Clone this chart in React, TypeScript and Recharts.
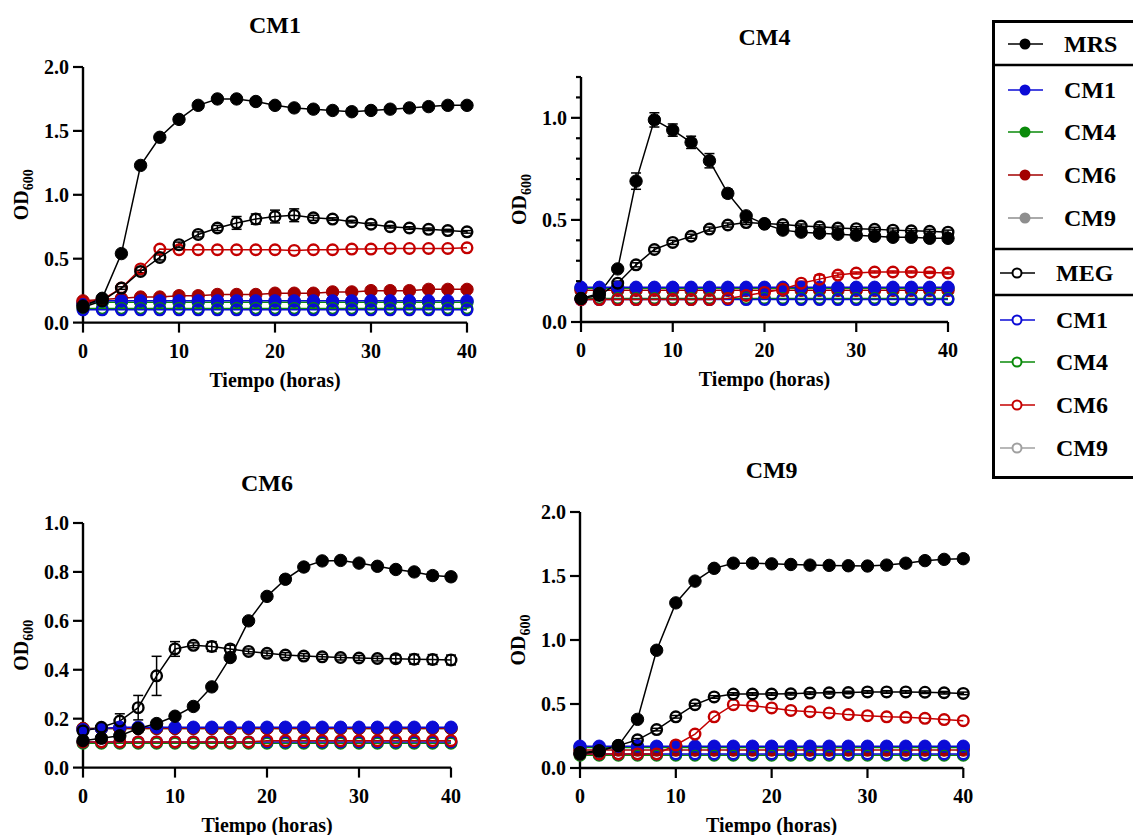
import React from 'react';
import { LineChart, Line, XAxis, YAxis, ErrorBar, Label } from 'recharts';

const FONT = '"Liberation Serif", "Times New Roman", Times, serif';
const BLACK = '#000000';
const BLUE = '#0b0bd6';
const GREEN = '#0a8a0a';
const RED_FILLED = '#a30000';
const RED_OPEN = '#c40000';
const GRAY = '#8e8e8e';
const GRAY_OPEN = '#a0a0a0';

const HOURS = [0, 2, 4, 6, 8, 10, 12, 14, 16, 18, 20, 22, 24, 26, 28, 30, 32, 34, 36, 38, 40];
const X_TICKS = [0, 10, 20, 30, 40];
const Y_TICKS_2 = [0, 0.5, 1.0, 1.5, 2.0];
const Y_TICKS_12 = [0, 0.1, 0.2, 0.3, 0.4, 0.5, 0.6, 0.7, 0.8, 0.9, 1.0, 1.1, 1.2];
const Y_TICKS_1 = [0, 0.2, 0.4, 0.6, 0.8, 1.0];

// --- panel CM1 ---
const CM1_MRS = [0.13, 0.19, 0.54, 1.23, 1.45, 1.59, 1.70, 1.75, 1.75, 1.73, 1.70, 1.68, 1.67, 1.66, 1.65, 1.66, 1.67, 1.68, 1.69, 1.70, 1.70];
const CM1_MRS_ERR = [0.01, 0.01, 0.01, 0.01, 0.01, 0.01, 0.01, 0.01, 0.01, 0.01, 0.01, 0.01, 0.01, 0.01, 0.01, 0.01, 0.01, 0.01, 0.01, 0.01, 0.01];
const CM1_MEG = [0.12, 0.17, 0.27, 0.40, 0.51, 0.61, 0.69, 0.74, 0.78, 0.81, 0.83, 0.84, 0.82, 0.81, 0.79, 0.77, 0.75, 0.74, 0.73, 0.72, 0.71];
const CM1_MEG_ERR = [0.01, 0.01, 0.01, 0.01, 0.02, 0.02, 0.02, 0.02, 0.05, 0.04, 0.05, 0.05, 0.02, 0.01, 0.01, 0.01, 0.01, 0.01, 0.01, 0.01, 0.01];
const CM1_MRS_CM1 = [0.15, 0.17, 0.17, 0.17, 0.17, 0.17, 0.17, 0.17, 0.17, 0.17, 0.17, 0.17, 0.17, 0.17, 0.17, 0.17, 0.17, 0.17, 0.17, 0.17, 0.17];
const CM1_MRS_CM4 = [0.15, 0.16, 0.16, 0.16, 0.16, 0.16, 0.16, 0.16, 0.16, 0.16, 0.16, 0.16, 0.16, 0.16, 0.16, 0.16, 0.16, 0.16, 0.16, 0.16, 0.16];
const CM1_MRS_CM6 = [0.17, 0.18, 0.19, 0.20, 0.20, 0.21, 0.21, 0.22, 0.22, 0.22, 0.23, 0.23, 0.23, 0.24, 0.24, 0.25, 0.25, 0.25, 0.26, 0.26, 0.26];
const CM1_MEG_CM1 = [0.10, 0.10, 0.10, 0.10, 0.10, 0.10, 0.10, 0.10, 0.10, 0.10, 0.10, 0.10, 0.10, 0.10, 0.10, 0.10, 0.10, 0.10, 0.10, 0.10, 0.10];
const CM1_MEG_CM4 = [0.11, 0.11, 0.11, 0.11, 0.11, 0.11, 0.11, 0.11, 0.11, 0.11, 0.11, 0.11, 0.11, 0.11, 0.11, 0.11, 0.11, 0.11, 0.11, 0.11, 0.11];
const CM1_MEG_CM6 = [0.16, 0.18, 0.27, 0.42, 0.575, 0.57, 0.57, 0.57, 0.57, 0.57, 0.57, 0.565, 0.57, 0.57, 0.575, 0.575, 0.58, 0.58, 0.58, 0.58, 0.585];

// --- panel CM4 ---
const CM4_MRS = [0.115, 0.14, 0.26, 0.69, 0.99, 0.94, 0.88, 0.79, 0.63, 0.52, 0.48, 0.45, 0.44, 0.435, 0.43, 0.425, 0.42, 0.415, 0.415, 0.41, 0.41];
const CM4_MRS_ERR = [0.01, 0.01, 0.01, 0.04, 0.035, 0.03, 0.03, 0.035, 0.02, 0.01, 0.01, 0.01, 0.01, 0.01, 0.01, 0.01, 0.01, 0.01, 0.01, 0.01, 0.01];
const CM4_MEG = [0.115, 0.13, 0.19, 0.28, 0.355, 0.39, 0.42, 0.455, 0.475, 0.487, 0.482, 0.477, 0.47, 0.466, 0.46, 0.457, 0.454, 0.45, 0.447, 0.444, 0.44];
const CM4_MEG_ERR = [0.01, 0.01, 0.01, 0.01, 0.01, 0.01, 0.01, 0.01, 0.01, 0.01, 0.01, 0.01, 0.01, 0.01, 0.01, 0.01, 0.01, 0.01, 0.01, 0.01, 0.01];
const CM4_MRS_CM1 = [0.17, 0.17, 0.17, 0.17, 0.17, 0.17, 0.17, 0.17, 0.17, 0.17, 0.17, 0.17, 0.17, 0.17, 0.17, 0.17, 0.17, 0.17, 0.17, 0.17, 0.17];
const CM4_MRS_CM4 = [0.165, 0.165, 0.165, 0.165, 0.165, 0.165, 0.165, 0.165, 0.165, 0.165, 0.165, 0.165, 0.165, 0.165, 0.165, 0.165, 0.165, 0.165, 0.165, 0.165, 0.165];
const CM4_MRS_CM6 = [0.155, 0.155, 0.155, 0.155, 0.155, 0.155, 0.155, 0.155, 0.155, 0.155, 0.155, 0.155, 0.155, 0.155, 0.155, 0.155, 0.155, 0.155, 0.155, 0.155, 0.155];
const CM4_MEG_CM1 = [0.11, 0.11, 0.11, 0.11, 0.11, 0.11, 0.11, 0.11, 0.11, 0.11, 0.11, 0.11, 0.11, 0.11, 0.11, 0.11, 0.11, 0.11, 0.11, 0.11, 0.11];
const CM4_MEG_CM4 = [0.115, 0.115, 0.115, 0.115, 0.115, 0.115, 0.115, 0.115, 0.115, 0.115, 0.115, 0.115, 0.115, 0.115, 0.115, 0.115, 0.115, 0.115, 0.115, 0.115, 0.115];
const CM4_MEG_CM6 = [0.11, 0.11, 0.11, 0.11, 0.11, 0.11, 0.11, 0.11, 0.115, 0.13, 0.145, 0.16, 0.19, 0.21, 0.23, 0.24, 0.245, 0.245, 0.245, 0.243, 0.24];
const CM4_MEG_CM6_ERR = [0, 0, 0, 0, 0, 0, 0, 0, 0, 0, 0, 0, 0.01, 0.02, 0.01, 0.005, 0.005, 0.005, 0.005, 0.005, 0.005];

// --- panel CM6 ---
const CM6_MRS = [0.11, 0.12, 0.13, 0.16, 0.18, 0.21, 0.25, 0.33, 0.45, 0.60, 0.70, 0.77, 0.82, 0.845, 0.847, 0.836, 0.823, 0.81, 0.80, 0.785, 0.78];
const CM6_MRS_ERR = [0.005, 0.01, 0.01, 0.005, 0.005, 0.005, 0.005, 0.005, 0.005, 0.005, 0.005, 0.015, 0.015, 0.01, 0.01, 0.01, 0.01, 0.01, 0.01, 0.015, 0.015];
const CM6_MEG = [0.15, 0.165, 0.19, 0.245, 0.375, 0.485, 0.50, 0.495, 0.485, 0.475, 0.467, 0.46, 0.456, 0.453, 0.45, 0.448, 0.446, 0.445, 0.443, 0.442, 0.44];
const CM6_MEG_ERR = [0.01, 0.01, 0.03, 0.05, 0.08, 0.03, 0.01, 0.02, 0.015, 0.01, 0.01, 0.01, 0.01, 0.01, 0.01, 0.01, 0.01, 0.015, 0.02, 0.02, 0.02];
const CM6_MRS_CM1 = [0.155, 0.16, 0.165, 0.165, 0.165, 0.165, 0.165, 0.165, 0.165, 0.165, 0.165, 0.165, 0.165, 0.165, 0.165, 0.165, 0.165, 0.165, 0.165, 0.165, 0.165];
const CM6_MRS_CM4 = [0.16, 0.16, 0.16, 0.16, 0.16, 0.16, 0.16, 0.16, 0.16, 0.16, 0.16, 0.16, 0.16, 0.16, 0.16, 0.16, 0.16, 0.16, 0.16, 0.16, 0.16];
const CM6_MRS_CM6 = [0.16, 0.16, 0.16, 0.16, 0.16, 0.16, 0.16, 0.16, 0.16, 0.16, 0.16, 0.16, 0.16, 0.16, 0.16, 0.16, 0.16, 0.16, 0.16, 0.16, 0.16];
const CM6_MEG_CM1 = [0.105, 0.105, 0.105, 0.105, 0.105, 0.105, 0.105, 0.105, 0.105, 0.105, 0.105, 0.105, 0.105, 0.105, 0.105, 0.105, 0.105, 0.105, 0.105, 0.105, 0.105];
const CM6_MEG_CM4 = [0.10, 0.10, 0.10, 0.10, 0.10, 0.10, 0.10, 0.10, 0.10, 0.10, 0.10, 0.10, 0.10, 0.10, 0.10, 0.10, 0.10, 0.10, 0.10, 0.10, 0.10];
const CM6_MEG_CM6 = [0.105, 0.105, 0.105, 0.105, 0.105, 0.105, 0.105, 0.105, 0.105, 0.105, 0.11, 0.11, 0.11, 0.11, 0.11, 0.11, 0.11, 0.11, 0.11, 0.11, 0.11];

// --- panel CM9 ---
const CM9_MRS = [0.12, 0.135, 0.175, 0.38, 0.92, 1.29, 1.46, 1.56, 1.60, 1.60, 1.595, 1.59, 1.585, 1.583, 1.58, 1.578, 1.585, 1.60, 1.62, 1.63, 1.635];
const CM9_MRS_ERR = [0.01, 0.01, 0.01, 0.01, 0.01, 0.01, 0.01, 0.01, 0.01, 0.01, 0.01, 0.01, 0.01, 0.01, 0.01, 0.01, 0.01, 0.01, 0.01, 0.01, 0.01];
const CM9_MEG = [0.11, 0.13, 0.175, 0.22, 0.30, 0.40, 0.495, 0.555, 0.578, 0.578, 0.578, 0.58, 0.585, 0.588, 0.59, 0.594, 0.594, 0.594, 0.592, 0.588, 0.583];
const CM9_MEG_ERR = [0.01, 0.01, 0.01, 0.01, 0.01, 0.01, 0.01, 0.01, 0.01, 0.01, 0.01, 0.01, 0.01, 0.01, 0.01, 0.01, 0.01, 0.01, 0.01, 0.01, 0.01];
const CM9_MRS_CM1 = [0.17, 0.17, 0.17, 0.17, 0.17, 0.17, 0.17, 0.17, 0.17, 0.17, 0.17, 0.17, 0.17, 0.17, 0.17, 0.17, 0.17, 0.17, 0.17, 0.17, 0.17];
const CM9_MRS_CM4 = [0.16, 0.16, 0.16, 0.16, 0.16, 0.16, 0.16, 0.16, 0.16, 0.16, 0.16, 0.16, 0.16, 0.16, 0.16, 0.16, 0.16, 0.16, 0.16, 0.16, 0.16];
const CM9_MRS_CM6 = [0.14, 0.14, 0.14, 0.14, 0.14, 0.14, 0.14, 0.14, 0.14, 0.14, 0.14, 0.14, 0.14, 0.14, 0.14, 0.14, 0.14, 0.14, 0.14, 0.14, 0.14];
const CM9_MEG_CM1 = [0.11, 0.11, 0.11, 0.11, 0.11, 0.11, 0.11, 0.11, 0.11, 0.11, 0.11, 0.11, 0.11, 0.11, 0.11, 0.11, 0.11, 0.11, 0.11, 0.11, 0.11];
const CM9_MEG_CM4 = [0.10, 0.10, 0.10, 0.10, 0.10, 0.10, 0.10, 0.10, 0.10, 0.10, 0.10, 0.10, 0.10, 0.10, 0.10, 0.10, 0.10, 0.10, 0.10, 0.10, 0.10];
const CM9_MEG_CM6 = [0.11, 0.11, 0.11, 0.11, 0.11, 0.18, 0.265, 0.40, 0.495, 0.487, 0.469, 0.45, 0.44, 0.43, 0.417, 0.409, 0.40, 0.396, 0.388, 0.378, 0.37];

const LEGEND_TOP = ['MRS', 'CM1', 'CM4', 'CM6', 'CM9'];
const LEGEND_BOTTOM = ['MEG', 'CM1', 'CM4', 'CM6', 'CM9'];
const LEGEND_COLORS = [BLACK, BLUE, GREEN, RED_FILLED, GRAY];
const LEGEND_COLORS_OPEN = [BLACK, BLUE, GREEN, RED_OPEN, GRAY_OPEN];

type Series = { key: string; values: number[]; err?: number[]; color: string; open: boolean };

// draw order: coloured filled, coloured open, then black on top
function seriesFor(mrs, mrsErr, meg, megErr, c1, c4, c6, o1, o4, o6, o6Err?): Series[] {
  return [
    { key: 'mrsCM4', values: c4, color: GREEN, open: false },
    { key: 'mrsCM6', values: c6, color: RED_FILLED, open: false },
    { key: 'mrsCM1', values: c1, color: BLUE, open: false },
    { key: 'megCM4', values: o4, color: GREEN, open: true },
    { key: 'megCM1', values: o1, color: BLUE, open: true },
    { key: 'megCM6', values: o6, err: o6Err, color: RED_OPEN, open: true },
    { key: 'meg', values: meg, err: megErr, color: BLACK, open: true },
    { key: 'mrs', values: mrs, err: mrsErr, color: BLACK, open: false },
  ];
}

const PANELS = [
  {
    title: 'CM1', px: 82.7, py: 66.7, pw: 384, ph: 255.6, titleY: 33, yMax: 2, yTicks: Y_TICKS_2,
    series: seriesFor(CM1_MRS, CM1_MRS_ERR, CM1_MEG, CM1_MEG_ERR, CM1_MRS_CM1, CM1_MRS_CM4, CM1_MRS_CM6, CM1_MEG_CM1, CM1_MEG_CM4, CM1_MEG_CM6),
  },
  {
    title: 'CM4', px: 580.7, py: 77.3, pw: 367, ph: 245, titleY: 45, yMax: 1.2, yTicks: Y_TICKS_12,
    series: seriesFor(CM4_MRS, CM4_MRS_ERR, CM4_MEG, CM4_MEG_ERR, CM4_MRS_CM1, CM4_MRS_CM4, CM4_MRS_CM6, CM4_MEG_CM1, CM4_MEG_CM4, CM4_MEG_CM6, CM4_MEG_CM6_ERR),
  },
  {
    title: 'CM6', px: 82.7, py: 522.7, pw: 368, ph: 244.6, titleY: 491, yMax: 1, yTicks: Y_TICKS_1,
    series: seriesFor(CM6_MRS, CM6_MRS_ERR, CM6_MEG, CM6_MEG_ERR, CM6_MRS_CM1, CM6_MRS_CM4, CM6_MRS_CM6, CM6_MEG_CM1, CM6_MEG_CM4, CM6_MEG_CM6),
  },
  {
    title: 'CM9', px: 580, py: 512.3, pw: 383.3, ph: 256, titleY: 478, yMax: 2, yTicks: Y_TICKS_2,
    series: seriesFor(CM9_MRS, CM9_MRS_ERR, CM9_MEG, CM9_MEG_ERR, CM9_MRS_CM1, CM9_MRS_CM4, CM9_MRS_CM6, CM9_MEG_CM1, CM9_MEG_CM4, CM9_MEG_CM6),
  },
];

const M = { top: 60, left: 10, right: 20, bottom: 25 };
const YW = 70;
const XH = 50;
const AX = M.left + YW; // plot left inside chart svg

function isMajor(v: number, yMax: number) {
  if (yMax === 1.2) return Math.abs(v * 2 - Math.round(v * 2)) < 1e-6;
  return true;
}

function Panel({ p }: { p: any }) {
  const rows = HOURS.map((t, i) => {
    const r: any = { t };
    p.series.forEach((s: Series) => {
      r[s.key] = s.values[i];
      if (s.err) r[s.key + 'Err'] = s.err[i];
    });
    return r;
  });
  const axisY = M.top + p.ph;
  const width = p.pw + AX + M.right;
  const height = p.ph + M.top + XH + M.bottom;
  const left = p.px - AX;
  const top = p.py - M.top;
  const txt = { fontFamily: FONT, fontWeight: 700, fill: '#000' };

  const yTick = (props: any) => {
    const v = props.payload.value;
    const major = isMajor(v, p.yMax);
    return (
      <g>
        <line x1={AX - (major ? 10 : 5)} x2={AX} y1={props.y} y2={props.y} stroke="#000" strokeWidth={2.2} />
        {major && (
          <text x={AX - 14} y={props.y} dy="0.36em" textAnchor="end" fontSize={20} {...txt}>
            {v.toFixed(1)}
          </text>
        )}
      </g>
    );
  };
  const xTick = (props: any) => (
    <g>
      <line x1={props.x} x2={props.x} y1={axisY} y2={axisY + 10} stroke="#000" strokeWidth={2.2} />
      <text x={props.x} y={axisY + 35} textAnchor="middle" fontSize={20} {...txt}>
        {props.payload.value}
      </text>
    </g>
  );

  return (
    <div style={{ position: 'absolute', left, top }}>
      <LineChart width={width} height={height} data={rows} margin={M}>
        <XAxis
          type="number"
          dataKey="t"
          domain={[0, 40]}
          ticks={X_TICKS}
          interval={0}
          height={XH}
          tickLine={false}
          axisLine={{ stroke: '#000', strokeWidth: 2.4 }}
          tick={xTick}
        >
          <Label
            content={() => (
              <text x={AX + p.pw / 2} y={axisY + 64} textAnchor="middle" fontSize={20} {...txt}>
                Tiempo (horas)
              </text>
            )}
          />
        </XAxis>
        <YAxis
          type="number"
          domain={[0, p.yMax]}
          ticks={p.yTicks}
          interval={0}
          width={YW}
          tickLine={false}
          axisLine={{ stroke: '#000', strokeWidth: 2.4 }}
          tick={yTick}
        >
          <Label
            content={() => (
              <g>
                <text x={AX + p.pw / 2} y={p.titleY - top} textAnchor="middle" fontSize={24} {...txt}>
                  {p.title}
                </text>
                <text
                  transform={`translate(${AX - 55}, ${M.top + p.ph / 2}) rotate(-90)`}
                  textAnchor="middle"
                  fontSize={20}
                  {...txt}
                >
                  <tspan>OD</tspan>
                  <tspan dy={5} fontSize={14}>600</tspan>
                </text>
              </g>
            )}
          />
        </YAxis>
        {p.series.map((s: Series) => (
          <Line
            key={s.key}
            dataKey={s.key}
            stroke={s.color}
            strokeWidth={1.5}
            isAnimationActive={false}
            activeDot={false}
            dot={
              s.open
                ? { r: 5.3, fill: 'none', stroke: s.color, strokeWidth: 2.4 }
                : { r: 6.2, fill: s.color, stroke: s.color, strokeWidth: 1 }
            }
          >
            {s.err && <ErrorBar dataKey={s.key + 'Err'} direction="y" width={5} stroke={s.color} strokeWidth={1.5} />}
          </Line>
        ))}
      </LineChart>
    </div>
  );
}

function LegendBox() {
  const topRows = [44, 90, 132, 175, 218];
  const bottomRows = [273, 320, 362, 405, 448];
  const txt = { fontFamily: FONT, fontWeight: 700, fill: '#000', fontSize: 24 };
  return (
    <svg style={{ position: 'absolute', left: 985, top: 0 }} width={148} height={490}>
      <rect x={8.5} y={21.5} width={160} height={456} fill="none" stroke="#000" strokeWidth={3} />
      <line x1={8} x2={148} y1={65} y2={65} stroke="#000" strokeWidth={2.5} />
      <line x1={8} x2={148} y1={249} y2={249} stroke="#000" strokeWidth={2.5} />
      <line x1={8} x2={148} y1={295} y2={295} stroke="#000" strokeWidth={2.5} />
      {LEGEND_TOP.map((name, i) => (
        <g key={'t' + i}>
          <line x1={23} x2={58} y1={topRows[i]} y2={topRows[i]} stroke={LEGEND_COLORS[i]} strokeWidth={1.5} />
          <circle cx={40} cy={topRows[i]} r={5.5} fill={LEGEND_COLORS[i]} />
          <text x={79} y={topRows[i]} dy="0.35em" {...txt}>{name}</text>
        </g>
      ))}
      {LEGEND_BOTTOM.map((name, i) => (
        <g key={'b' + i}>
          <line x1={15} x2={50} y1={bottomRows[i]} y2={bottomRows[i]} stroke={LEGEND_COLORS_OPEN[i]} strokeWidth={1.5} />
          <circle cx={32} cy={bottomRows[i]} r={4.5} fill="#fff" stroke={LEGEND_COLORS_OPEN[i]} strokeWidth={2} />
          <text x={71} y={bottomRows[i]} dy="0.35em" {...txt}>{name}</text>
        </g>
      ))}
    </svg>
  );
}

export default function App() {
  return (
    <div style={{ position: 'absolute', left: 0, top: 0, width: 1133, height: 835, overflow: 'hidden', background: '#fff' }}>
      {PANELS.map((p) => (
        <Panel key={p.title} p={p} />
      ))}
      <LegendBox />
    </div>
  );
}
